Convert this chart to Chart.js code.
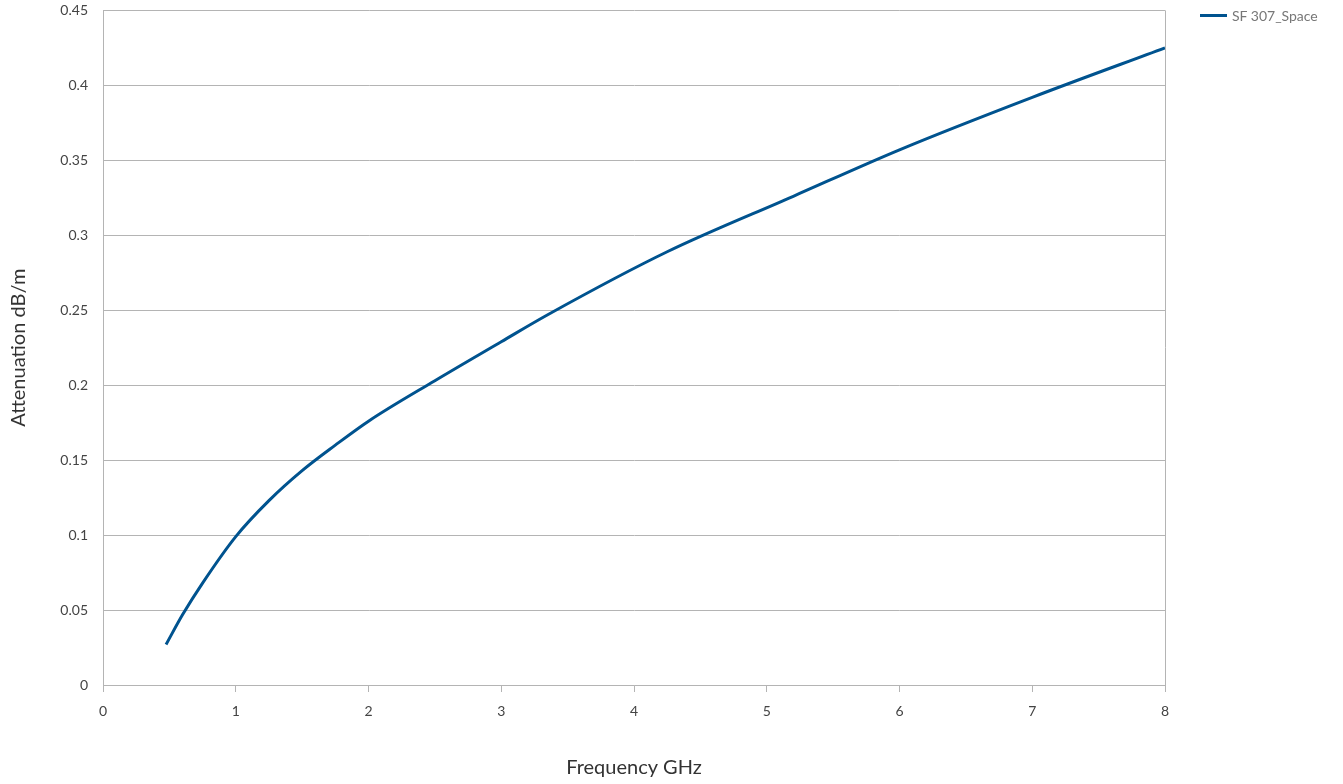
<!DOCTYPE html>
<html>
<head>
<meta charset="utf-8">
<script src="https://cdn.jsdelivr.net/npm/chart.js@4.4.1/dist/chart.umd.min.js"></script>
<style>
  html, body { margin: 0; padding: 0; background: #fff; overflow: hidden; }
  #wrap { position: relative; width: 1343px; height: 784px; overflow: hidden; }
  #chartCanvas { position: absolute; left: 0; top: -13px; }
  #legend {
    position: absolute; left: 1200px; top: 7px;
    font: 14px Lato, sans-serif; color: #777;
    display: flex; align-items: center;
  }
  #legend span.sw { display: inline-block; width: 27px; height: 3px; background: #00538f; margin-right: 5px; }
</style>
</head>
<body>
<div id="wrap">
  <canvas id="chartCanvas" width="1343" height="797"></canvas>
  <div id="legend"><span class="sw"></span><span id="legendText"></span></div>
</div>
<script>
const seriesName = 'SF 307_Space';
const frequencies = [0.475, 0.6, 0.75, 1.0, 1.25, 1.5, 1.75, 2.0, 2.5, 3.0, 3.35, 4.25, 5.2, 6.0, 7.0, 8.0];
const attenuation = [0.027, 0.047, 0.068, 0.099, 0.123, 0.143, 0.160, 0.176, 0.203, 0.229, 0.247, 0.289, 0.326, 0.357, 0.392, 0.425];
const xTicks = [0, 1, 2, 3, 4, 5, 6, 7, 8];
const yTicks = [0, 0.05, 0.1, 0.15, 0.2, 0.25, 0.3, 0.35, 0.4, 0.45];

document.getElementById('legendText').textContent = seriesName;

const gridGray = '#b4b4b4';
const tickFont = {family: 'Lato, sans-serif', size: 14};
const titleFont = {family: 'Lato, sans-serif', size: 20};

new Chart(document.getElementById('chartCanvas').getContext('2d'), {
    type: 'line',
    data: {
        datasets: [{
            label: seriesName,
            data: frequencies.map((f, i) => ({x: f, y: attenuation[i]})),
            borderColor: '#00538f',
            borderWidth: 3,
            pointRadius: 0,
            cubicInterpolationMode: 'monotone',
            fill: false
        }]
    },
    options: {
        responsive: false,
        animation: false,
        layout: {padding: {top: 0, right: 178, left: 3, bottom: 0}},
        plugins: {legend: {display: false}, tooltip: {enabled: false}},
        scales: {
            x: {
                type: 'linear',
                min: 0, max: 8,
                afterBuildTicks: s => { s.ticks = xTicks.map(v => ({value: v})); },
                afterFit: s => { s.height = 99; },
                ticks: {color: '#444', font: tickFont, padding: 11, maxRotation: 0},
                grid: {
                    color: c => (c.tick && c.tick.value === 8) ? gridGray : 'transparent',
                    tickColor: gridGray,
                    tickLength: 7,
                    lineWidth: 1
                },
                border: {color: gridGray},
                title: {display: true, text: 'Frequency GHz', color: '#333', font: titleFont, padding: {top: 20}}
            },
            y: {
                min: 0, max: 0.45,
                afterBuildTicks: s => { s.ticks = yTicks.map(v => ({value: v})); },
                afterFit: s => { s.width = 100; },
                ticks: {color: '#444', font: tickFont, padding: 15, callback: v => String(+v.toFixed(2))},
                grid: {color: gridGray, drawTicks: false, lineWidth: 1},
                border: {color: gridGray},
                title: {display: true, text: 'Attenuation dB/m', color: '#333', font: titleFont, padding: {bottom: 4}}
            }
        }
    }
});
</script>
</body>
</html>
